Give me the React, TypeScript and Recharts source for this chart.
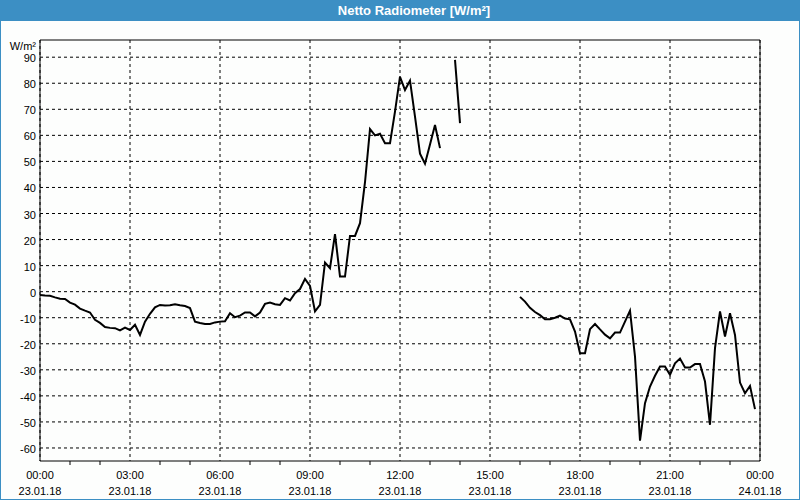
import React from 'react';
import {
  LineChart,
  Line,
  XAxis,
  YAxis,
  CartesianGrid,
  ReferenceArea,
} from 'recharts';

// 10-minute readings, 23.01.18 00:00 .. 24.01.18 00:00 (null = no data)
const segMorning: number[] = [
  -1.3, -1.5, -1.6, -2.2, -2.7, -2.8, -4.2, -5.0, -6.5, -7.3,
  -8.0, -10.8, -12.0, -13.6, -13.9, -14.0, -14.9, -13.8, -14.7, -12.7,
  -16.6, -11.5, -8.5, -6.0, -5.1, -5.3, -5.2, -4.8, -5.2, -5.5,
  -6.3, -11.5, -12.0, -12.4, -12.4, -11.8, -11.5, -11.4, -8.3, -9.8,
  -9.2, -8.0, -8.0, -9.5, -8.0, -4.7, -4.2, -4.8, -5.1, -2.5,
  -3.4, -0.6, 1.0, 4.9, 2.2, -7.6, -5.1, 11.2, 9.0, 22.1,
  5.8, 5.8, 21.4, 21.4, 26.3, 42.0, 62.4, 60.0, 60.6, 57.0,
  57.0, 69.1, 82.5, 77.4, 81.0, 67.2, 53.0, 49.1, 56.5, 64.0,
  55.1,
];
const segNoon: number[] = [89.0, 64.7];
const segEvening: number[] = [
  -2.0, -3.8, -6.2, -7.8, -9.0, -10.6, -10.6, -10.0, -9.2, -10.3,
  -10.6, -15.3, -23.6, -23.6, -14.4, -12.4, -14.5, -16.5, -17.9, -15.7,
  -15.7, -11.5, -7.3, -24.9, -57.2, -42.8, -36.4, -32.3, -28.7, -28.7,
  -31.9, -27.5, -25.7, -29.1, -29.1, -27.8, -27.8, -34.5, -51.1, -21.7,
  -7.6, -17.2, -8.3, -16.6, -34.9, -39.0, -36.2, -45.1,
];

const values: (number | null)[] = [
  ...segMorning,
  null, null,
  ...segNoon,
  null, null, null, null, null, null, null, null, null, null, null,
  ...segEvening,
  null,
];

const yTicks = [-60, -50, -40, -30, -20, -10, 0, 10, 20, 30, 40, 50, 60, 70, 80, 90];
const hourTicks = Array.from({ length: 25 }, (_, i) => i * 60);
const gridTicks = [0, 180, 360, 540, 720, 900, 1080, 1260, 1440];
const tickTimes = ['00:00', '03:00', '06:00', '09:00', '12:00', '15:00', '18:00', '21:00', '00:00'];
const tickDates = ['23.01.18', '23.01.18', '23.01.18', '23.01.18', '23.01.18', '23.01.18', '23.01.18', '23.01.18', '24.01.18'];

const data = values.map((v, i) => ({ t: i * 10, w: v }));

const FONT = '"Liberation Sans", Arial, sans-serif';
const BLUE = '#3c8fc4';

const XTick = (props: any) => {
  const { x, y, payload } = props;
  const idx = gridTicks.indexOf(payload.value);
  if (idx < 0) {
    return <line x1={x} x2={x} y1={y} y2={y + 4} stroke="#000" />;
  }
  return (
    <g>
      <text x={x} y={y + 18} textAnchor="middle" fontSize={11} fontFamily={FONT} fill="#000">
        {tickTimes[idx]}
      </text>
      <text x={x} y={y + 33.5} textAnchor="middle" fontSize={11} fontFamily={FONT} fill="#000">
        {tickDates[idx]}
      </text>
    </g>
  );
};

const YTick = (props: any) => {
  const { x, y, payload } = props;
  return (
    <text x={x} y={y + 5} textAnchor="end" fontSize={11} fontFamily={FONT} fill="#000">
      {payload.value}
    </text>
  );
};

const UnitLabel = (props: any) => {
  const { viewBox } = props;
  return (
    <text x={viewBox.x + viewBox.width - 4} y={viewBox.y + 10} textAnchor="end" fontSize={11} fontFamily={FONT} fill="#000">
      W/m²
    </text>
  );
};

export default function App() {
  return (
    <div style={{ position: 'absolute', left: 0, top: 0, width: 800, height: 500, background: '#fdfefd' }}>
      <LineChart
        width={800}
        height={500}
        data={data}
        margin={{ top: 40, right: 40, left: 0, bottom: 0 }}
        style={{ position: 'absolute', left: 0, top: 0 }}
      >
        <CartesianGrid
          stroke="#000"
          strokeDasharray="3 3"
          verticalValues={gridTicks}
          horizontalValues={yTicks}
        />
        <XAxis
          dataKey="t"
          type="number"
          domain={[0, 1440]}
          ticks={hourTicks}
          interval={0}
          height={39}
          tickSize={0}
          tickMargin={0}
          tickLine={false}
          axisLine={false}
          tick={<XTick />}
        />
        <YAxis
          type="number"
          domain={[-65, 96.6]}
          allowDataOverflow
          ticks={yTicks}
          interval={0}
          width={40}
          tickSize={0}
          tickMargin={4}
          tickLine={false}
          axisLine={false}
          tick={<YTick />}
          label={<UnitLabel />}
        />
        <ReferenceArea x1={0} x2={1440} y1={-65} y2={96.6} fill="none" stroke="#000" strokeWidth={1} ifOverflow="visible" />
        <Line
          type="linear"
          dataKey="w"
          stroke="#000"
          strokeWidth={2}
          dot={false}
          connectNulls={false}
          isAnimationActive={false}
        />
      </LineChart>
      <div
        style={{
          position: 'absolute',
          left: 0,
          top: 0,
          width: 800,
          height: 21,
          boxSizing: 'border-box',
          paddingLeft: 28,
          background: BLUE,
          color: '#fff',
          fontFamily: FONT,
          fontWeight: 'bold',
          fontSize: 13,
          lineHeight: '21px',
          textAlign: 'center',
        }}
      >
        Netto Radiometer [W/m²]
      </div>
      <div
        style={{
          position: 'absolute',
          left: 0,
          top: 21,
          width: 800,
          height: 479,
          boxSizing: 'border-box',
          borderLeft: `1px solid ${BLUE}`,
          borderRight: `1px solid ${BLUE}`,
          borderBottom: `1px solid ${BLUE}`,
          pointerEvents: 'none',
        }}
      />
    </div>
  );
}
